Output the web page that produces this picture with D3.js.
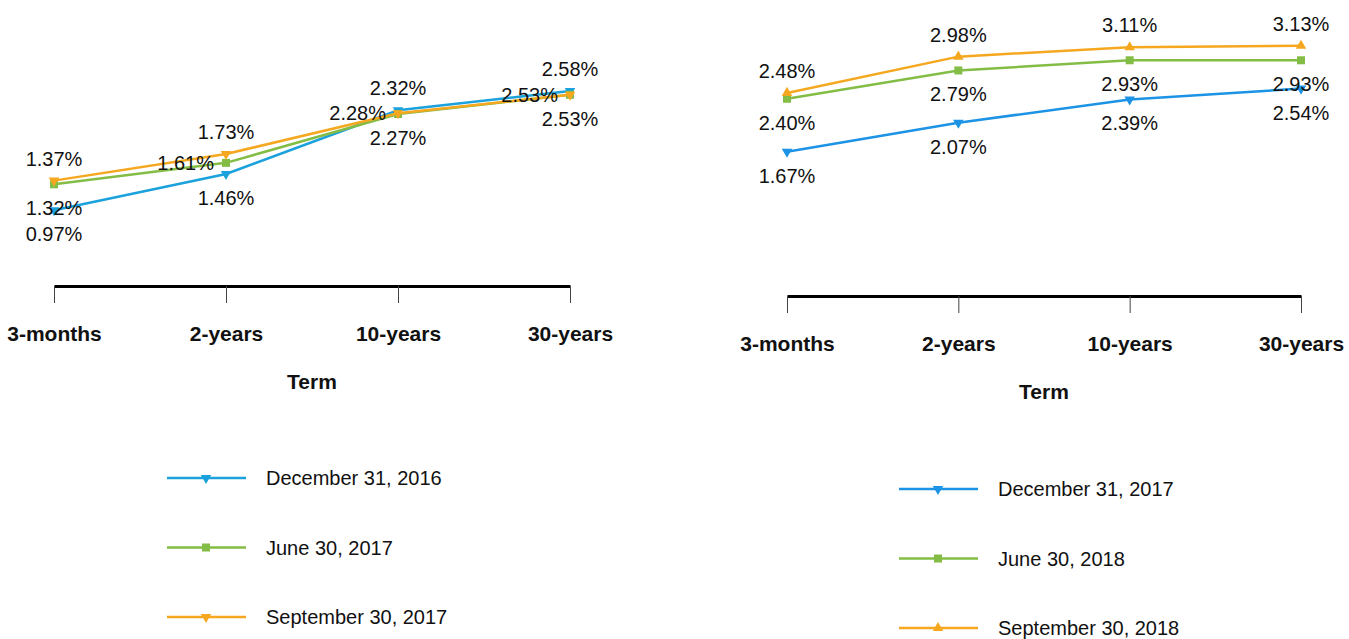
<!DOCTYPE html>
<html>
<head>
<meta charset="utf-8">
<script src="https://cdn.jsdelivr.net/npm/d3@7"></script>
<style>
  body { margin: 0; background: #fff; }
  svg text { font-family: "Liberation Sans", Arial, sans-serif; fill: #111; }
  .tick text { font-weight: bold; }
</style>
</head>
<body>
<div id="chart"></div>
<script>
// terms along the x axis
var terms = ["3-months", "2-years", "10-years", "30-years"];

// left panel
var leftNames = ["December 31, 2016", "June 30, 2017", "September 30, 2017"];
var dec2016 = [0.97, 1.46, 2.32, 2.58];
var jun2017 = [1.32, 1.61, 2.27, 2.53];
var sep2017 = [1.37, 1.73, 2.28, 2.53];

// right panel
var rightNames = ["December 31, 2017", "June 30, 2018", "September 30, 2018"];
var dec2017 = [1.67, 2.07, 2.39, 2.54];
var jun2018 = [2.40, 2.79, 2.93, 2.93];
var sep2018 = [2.48, 2.98, 3.11, 3.13];

var width = 1349;
var height = 639;

var svg = d3.select("#chart").append("svg")
  .attr("width", width)
  .attr("height", height);

var panels = [
  {
    x0: 54, x1: 570, zeroY: 282, perPct: 74, axisY: 286, labelY: 341, titleY: 389, legendX: 167, legendY: 478,
    series: [
      { name: leftNames[0], values: dec2016, color: "#1ba1dc", marker: "down", place: ["below", "below", "above", "above"] },
      { name: leftNames[1], values: jun2017, color: "#84bd45", marker: "square", place: ["below", "left", "below", "below"] },
      { name: leftNames[2], values: sep2017, color: "#f5a81f", marker: "down", place: ["above", "above", "left", "left"] }
    ]
  },
  {
    x0: 787, x1: 1301, zeroY: 273, perPct: 72.6, axisY: 296, labelY: 351, titleY: 399, legendX: 899, legendY: 489,
    series: [
      { name: rightNames[0], values: dec2017, color: "#1c93e4", marker: "down", place: ["below", "below", "below", "below"] },
      { name: rightNames[1], values: jun2018, color: "#84bd45", marker: "square", place: ["below", "below", "below", "below"] },
      { name: rightNames[2], values: sep2018, color: "#f5a81f", marker: "up", place: ["above", "above", "above", "above"] }
    ]
  }
];

function markerPath(type) {
  if (type === "square") return d3.symbol().type(d3.symbolSquare).size(64)();
  return d3.symbol().type(d3.symbolTriangle).size(48)();
}

function drawMarker(g, type, color, x, y) {
  g.append("path")
    .attr("d", markerPath(type))
    .attr("transform", "translate(" + x + "," + y + ")" + (type === "down" ? " rotate(180)" : ""))
    .attr("fill", color);
}

panels.forEach(function (p) {
  var x = d3.scalePoint().domain(terms).range([p.x0, p.x1]);
  var y = d3.scaleLinear().domain([0, 3.5]).range([p.zeroY, p.zeroY - 3.5 * p.perPct]);

  var g = svg.append("g");

  // x axis
  var axis = g.append("g")
    .attr("transform", "translate(0," + p.axisY + ")")
    .call(d3.axisBottom(x).tickSize(17).tickSizeOuter(0).tickPadding(0));
  axis.select(".domain").attr("stroke", "#000").attr("stroke-width", 3);
  axis.selectAll(".tick line").attr("stroke", "#444").attr("stroke-width", 1);
  axis.selectAll(".tick text")
    .attr("y", p.labelY - p.axisY)
    .attr("dy", 0)
    .style("font-size", "21px")
    .style("fill", "#111");

  g.append("text")
    .attr("x", (p.x0 + p.x1) / 2)
    .attr("y", p.titleY)
    .attr("text-anchor", "middle")
    .style("font-size", "21px")
    .style("font-weight", "bold")
    .text("Term");

  var line = d3.line()
    .x(function (d, i) { return x(terms[i]); })
    .y(function (d) { return y(d); });

  p.series.forEach(function (s) {
    g.append("path")
      .datum(s.values)
      .attr("d", line)
      .attr("fill", "none")
      .attr("stroke", s.color)
      .attr("stroke-width", 2.5);

    s.values.forEach(function (v, i) {
      drawMarker(g, s.marker, s.color, x(terms[i]), y(v));
    });
  });

  // value labels on top of lines
  p.series.forEach(function (s) {
    s.values.forEach(function (v, i) {
      var px = x(terms[i]), py = y(v);
      var t = g.append("text")
        .style("font-size", "20px")
        .text(v.toFixed(2) + "%");
      if (s.place[i] === "above") {
        t.attr("x", px).attr("y", py - 22 + 7).attr("text-anchor", "middle");
      } else if (s.place[i] === "below") {
        t.attr("x", px).attr("y", py + 24 + 7).attr("text-anchor", "middle");
      } else {
        t.attr("x", px - 12).attr("y", py + 7).attr("text-anchor", "end");
      }
    });
  });

  // legend
  p.series.forEach(function (s, i) {
    var ly = p.legendY + i * 69.5;
    g.append("line")
      .attr("x1", p.legendX).attr("x2", p.legendX + 79)
      .attr("y1", ly).attr("y2", ly)
      .attr("stroke", s.color)
      .attr("stroke-width", 2.5);
    drawMarker(g, s.marker, s.color, p.legendX + 39, ly);
    g.append("text")
      .attr("x", p.legendX + 99)
      .attr("y", ly + 7)
      .style("font-size", "20px")
      .text(s.name);
  });
});
</script>
</body>
</html>
